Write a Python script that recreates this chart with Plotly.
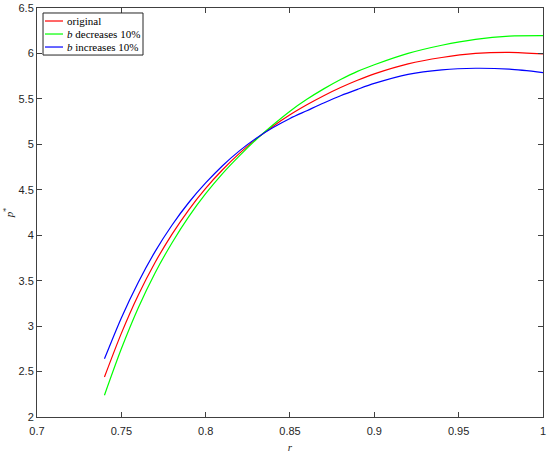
import plotly.graph_objects as go

r = [0.74, 0.75, 0.76, 0.77, 0.78, 0.79, 0.80, 0.81, 0.82, 0.83, 0.84, 0.85,
     0.86, 0.87, 0.88, 0.89, 0.90, 0.92, 0.94, 0.96, 0.98, 1.00]
p_original = [2.44, 2.92, 3.34, 3.70, 4.01, 4.28, 4.515, 4.72, 4.90, 5.06, 5.20, 5.325,
              5.435, 5.535, 5.625, 5.705, 5.775, 5.885, 5.955, 6.00, 6.012, 5.995]
p_b_decrease = [2.24, 2.75, 3.20, 3.585, 3.915, 4.205, 4.457, 4.678, 4.873, 5.053, 5.215, 5.365,
                5.495, 5.61, 5.713, 5.803, 5.875, 6.00, 6.09, 6.155, 6.19, 6.195]
p_b_increase = [2.64, 3.09, 3.48, 3.82, 4.11, 4.36, 4.575, 4.765, 4.928, 5.068, 5.185, 5.285,
                5.37, 5.455, 5.535, 5.605, 5.67, 5.77, 5.82, 5.837, 5.827, 5.79]

x_ticks = [0.7, 0.75, 0.8, 0.85, 0.9, 0.95, 1]
x_tick_labels = ["0.7", "0.75", "0.8", "0.85", "0.9", "0.95", "1"]
y_ticks = [2, 2.5, 3, 3.5, 4, 4.5, 5, 5.5, 6, 6.5]
y_tick_labels = ["2", "2.5", "3", "3.5", "4", "4.5", "5", "5.5", "6", "6.5"]

series_names = ["original", "<i>b</i> decreases 10%", "<i>b</i> increases 10%"]
series_values = [p_original, p_b_decrease, p_b_increase]
series_colors = ["#ff0000", "#00ff00", "#0000ff"]

fig = go.Figure()
for name, vals, col in zip(series_names, series_values, series_colors):
    fig.add_trace(go.Scatter(x=r, y=vals, mode="lines", name=name, showlegend=False,
                             line=dict(color=col, width=1.2, shape="spline", smoothing=0.8)))

# MATLAB-style legend box (top-left, inside axes)
leg_x0, leg_x1 = 0.0119, 0.2095
leg_y0, leg_y1 = 0.885, 0.9878
line_x0, line_x1 = 0.0158, 0.0514
text_x = 0.0555
row_y = [0.9682, 0.9364, 0.9046]
fig.add_shape(type="rect", xref="paper", yref="paper", x0=leg_x0, x1=leg_x1, y0=leg_y0, y1=leg_y1,
              line=dict(color="#262626", width=1), fillcolor="white", layer="above")
for name, col, yy in zip(series_names, series_colors, row_y):
    fig.add_shape(type="line", xref="paper", yref="paper", x0=line_x0, x1=line_x1, y0=yy, y1=yy,
                  line=dict(color=col, width=1.2), layer="above")
    fig.add_annotation(xref="paper", yref="paper", x=text_x, y=yy, text=name, showarrow=False,
                       xanchor="left", yanchor="middle",
                       font=dict(family="Liberation Serif, DejaVu Serif", size=11, color="#000000"))

axis_common = dict(showline=True, linecolor="#404040", linewidth=1, mirror="ticks",
                   ticks="inside", ticklen=5, tickcolor="#404040", showgrid=False,
                   zeroline=False, automargin=False,
                   tickfont=dict(family="Liberation Sans, Arial", size=11, color="#262626"))

fig.update_layout(
    width=550, height=454,
    margin=dict(l=37, r=7, t=8, b=37),
    paper_bgcolor="white", plot_bgcolor="white",
    showlegend=False,
    xaxis=dict(range=[0.7, 1.00001], tickvals=x_ticks, ticktext=x_tick_labels,
               ticklabelstandoff=4,
               title=dict(text="<i>r</i>", font=dict(family="Liberation Serif", size=11, color="#262626"),
                          standoff=7),
               **axis_common),
    yaxis=dict(range=[2, 6.5], tickvals=y_ticks, ticktext=y_tick_labels,
               title=dict(text="<i>p</i><sup>*</sup>", font=dict(family="Liberation Serif", size=11, color="#262626"),
                          standoff=2),
               **axis_common),
)

fig.write_html("out.html", config={"displayModeBar": False},
               post_script="document.body.style.margin='0';document.body.style.padding='0';")
